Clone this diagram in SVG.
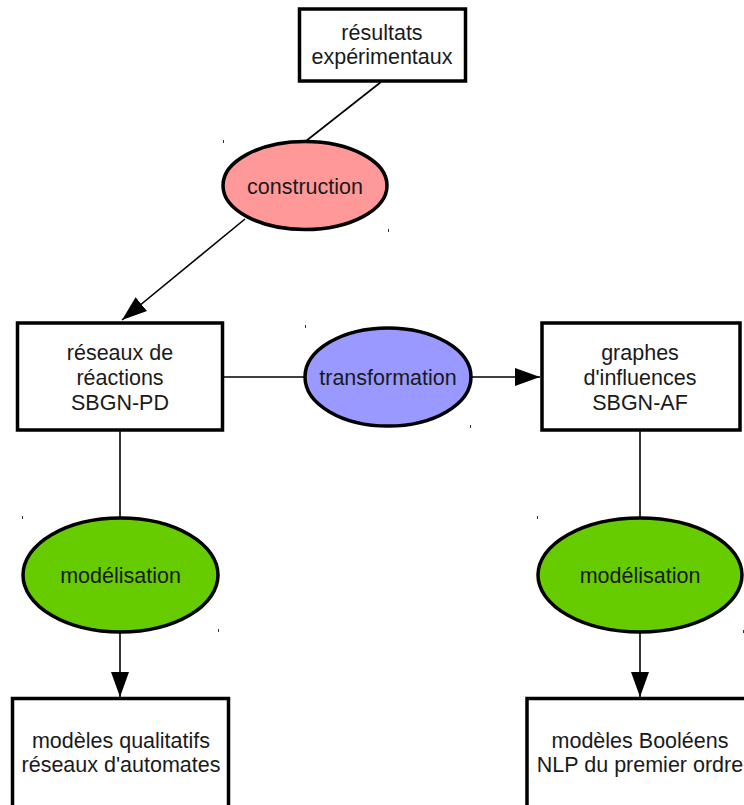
<svg xmlns="http://www.w3.org/2000/svg" width="744" height="805" viewBox="0 0 744 805">
<style>
.box{fill:#ffffff;stroke:#000;stroke-width:3.5}
.ell{stroke:#000;stroke-width:3.5}
.lbl{font-family:"Liberation Sans",Arial,sans-serif;font-size:21.5px;fill:#1a1a1a;text-anchor:middle}
.edge{stroke:#000;stroke-width:1.6;fill:none}
.tick{stroke:#333;stroke-width:1}
</style>
<defs>
<marker id="ah" viewBox="0 0 25 18" refX="25" refY="9" markerWidth="25" markerHeight="18" markerUnits="userSpaceOnUse" orient="auto">
<path d="M0,0 L25,9 L0,18 Z" fill="#000"/>
</marker>
</defs>
<rect width="744" height="805" fill="#ffffff"/>
<g id="connectors">
<line class="edge" x1="381" y1="82" x2="306" y2="141"/>
<line class="edge" x1="245" y1="219" x2="122" y2="320" marker-end="url(#ah)"/>
<line class="edge" x1="224" y1="377" x2="305" y2="377"/>
<line class="edge" x1="471" y1="377" x2="540" y2="377" marker-end="url(#ah)"/>
<line class="edge" x1="120" y1="431" x2="120" y2="517"/>
<line class="edge" x1="120" y1="633" x2="120" y2="697" marker-end="url(#ah)"/>
<line class="edge" x1="640" y1="431" x2="640" y2="517"/>
<line class="edge" x1="640" y1="633" x2="640" y2="697" marker-end="url(#ah)"/>
</g>
<g id="resultats">
<rect class="box" x="299.5" y="9" width="166" height="72"/>
<text class="lbl" x="382" y="40">résultats</text>
<text class="lbl" x="382" y="64">expérimentaux</text>
</g>
<g id="construction">
<ellipse class="ell" cx="305" cy="185.5" rx="82" ry="44" fill="#ff9999"/>
<text class="lbl" x="305" y="194">construction</text>
</g>
<g id="reseaux">
<rect class="box" x="17.5" y="323" width="205" height="107"/>
<text class="lbl" x="120" y="360">réseaux de</text>
<text class="lbl" x="120" y="385">réactions</text>
<text class="lbl" x="120" y="410">SBGN-PD</text>
</g>
<g id="transformation">
<ellipse class="ell" cx="388" cy="377" rx="83" ry="49" fill="#9999ff"/>
<text class="lbl" x="388" y="385">transformation</text>
</g>
<g id="graphes">
<rect class="box" x="542" y="323" width="198" height="107"/>
<text class="lbl" x="640" y="360">graphes</text>
<text class="lbl" x="640" y="385">d'influences</text>
<text class="lbl" x="640" y="410">SBGN-AF</text>
</g>
<g id="modelisation-left">
<ellipse class="ell" cx="120.5" cy="575" rx="97.5" ry="57" fill="#66cc00"/>
<text class="lbl" x="120.5" y="583">modélisation</text>
</g>
<g id="modelisation-right">
<ellipse class="ell" cx="640" cy="575" rx="102" ry="57" fill="#66cc00"/>
<text class="lbl" x="640" y="583">modélisation</text>
</g>
<g id="modeles-qualitatifs">
<rect class="box" x="12.5" y="698.5" width="216" height="120"/>
<text class="lbl" x="121" y="748">modèles qualitatifs</text>
<text class="lbl" x="121" y="772">réseaux d'automates</text>
</g>
<g id="modeles-booleens">
<rect class="box" x="527" y="698.5" width="230" height="120"/>
<text class="lbl" x="640" y="748">modèles Booléens</text>
<text class="lbl" x="640" y="772">NLP du premier ordre</text>
</g>
<g id="handles">
<line class="tick" x1="223.5" y1="140" x2="223.5" y2="143"/>
<line class="tick" x1="388.5" y1="229" x2="388.5" y2="232"/>
<line class="tick" x1="305.5" y1="325" x2="305.5" y2="328"/>
<line class="tick" x1="470.5" y1="425" x2="470.5" y2="428"/>
<line class="tick" x1="22.5" y1="516" x2="22.5" y2="519"/>
<line class="tick" x1="218.5" y1="629" x2="218.5" y2="632"/>
<line class="tick" x1="537.5" y1="516" x2="537.5" y2="519"/>
<line class="tick" x1="743.5" y1="630" x2="743.5" y2="633"/>
</g>
</svg>
